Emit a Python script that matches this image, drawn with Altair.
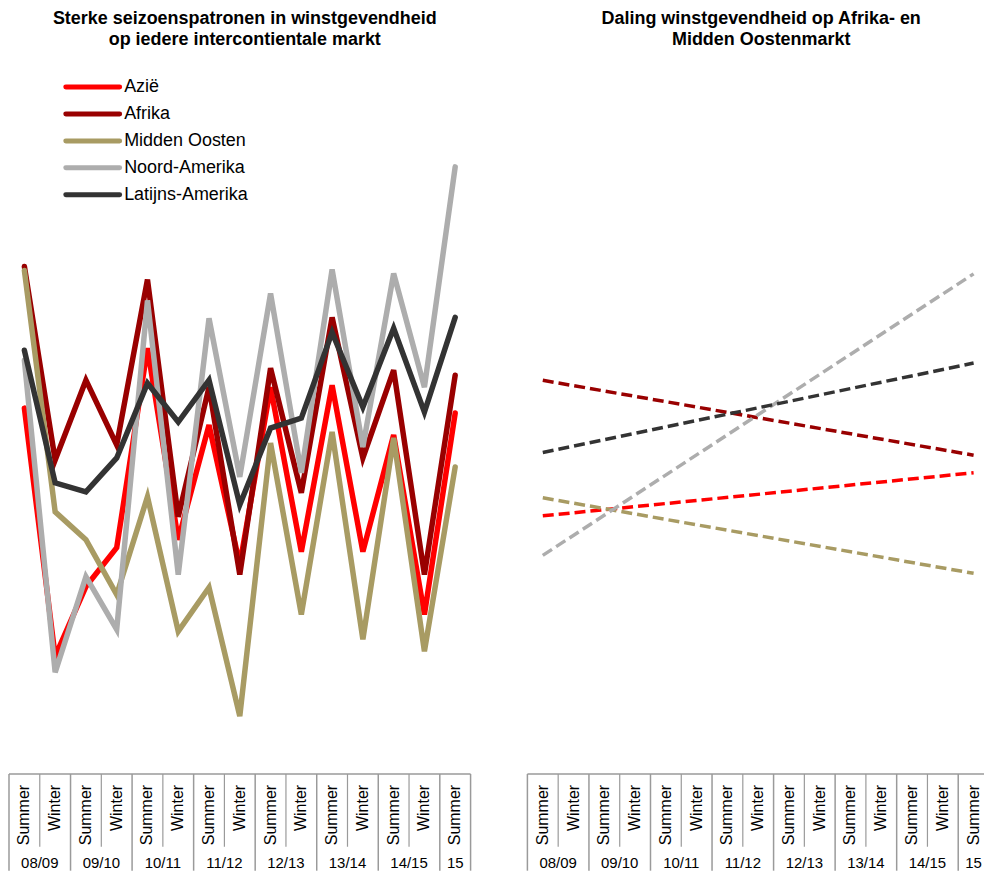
import altair as alt
import pandas as pd

# ---- data (arbitrary index units, no y axis shown) ----
seasons = ["Summer", "Winter"] * 7 + ["Summer"]
years = ["08/09", "08/09", "09/10", "09/10", "10/11", "10/11", "11/12", "11/12",
         "12/13", "12/13", "13/14", "13/14", "14/15", "14/15", "15"]

series_names = ["Azië", "Afrika", "Midden Oosten", "Noord-Amerika", "Latijns-Amerika"]
series_colors = ["#FF0000", "#990000", "#A89B63", "#ADADAD", "#333333"]

azie = [37.2, 12.3, 19.3, 23.2, 43.2, 24.0, 35.5, 21.5, 39.3, 22.8, 39.5, 22.8, 34.5, 16.5, 36.7]
afrika = [51.4, 32.0, 40.0, 33.5, 50.1, 26.3, 39.3, 20.5, 41.2, 28.7, 46.3, 32.2, 41.0, 20.5, 40.5]
midden_oosten = [51.0, 26.8, 24.0, 18.5, 28.3, 14.8, 19.2, 6.3, 33.7, 16.5, 34.8, 14.0, 34.2, 12.8, 31.3]
noord_amerika = [42.0, 10.7, 20.3, 15.0, 48.0, 20.5, 46.2, 30.3, 48.7, 30.7, 51.1, 33.3, 50.7, 39.3, 61.4]
latijns_amerika = [43.0, 29.7, 28.8, 32.2, 39.7, 35.8, 40.0, 27.5, 35.2, 36.2, 44.8, 37.3, 45.2, 36.8, 46.3]

left_title = ["Sterke seizoenspatronen in winstgevendheid", "op iedere intercontientale markt"]
right_title = ["Daling winstgevendheid op Afrika- en", "Midden Oostenmarkt"]

series_values = [azie, afrika, midden_oosten, noord_amerika, latijns_amerika]

# ---- tables ----
rows = []
for name, vals in zip(series_names, series_values):
    for i, v in enumerate(vals):
        rows.append({"series": name, "i": i, "season": seasons[i], "year": years[i], "v": v})
df = pd.DataFrame(rows)

periods = pd.DataFrame({"i": list(range(len(seasons))), "season": seasons, "year": years})

n = len(seasons)
bounds = []
for k in range(n + 1):
    full = k == 0 or k == n or years[k] != years[k - 1]
    bounds.append({"b": k - 0.5, "kind": "full" if full else "short"})
bounds = pd.DataFrame(bounds)
one = pd.DataFrame({"a": [0]})

W_LEFT = 463
W_RIGHT = 458          # right panel is cut off at the page edge, as in the reference
H = 864
CELL = W_LEFT / n
FONT = "Liberation Sans"
ys = alt.Scale(domain=[-9.2, 77.2], nice=False, zero=False)
GRID = "#9A9A9A"


def axis_box(xmax, xs):
    layers = []
    edge = pd.DataFrame({"x0": [-0.5], "x1": [min(xmax, n - 0.5)]})
    layers.append(alt.Chart(edge).mark_rule(color=GRID, strokeWidth=1.5).encode(
        x=alt.X("x0:Q", scale=xs, axis=None), x2="x1:Q", y=alt.value(767)))
    layers.append(alt.Chart(bounds)
                  .transform_filter((alt.datum.kind == "full") & (alt.datum.b <= xmax + 0.01))
                  .mark_rule(color=GRID, strokeWidth=1.5).encode(
        x=alt.X("b:Q", scale=xs, axis=None), y=alt.value(767), y2=alt.value(H)))
    layers.append(alt.Chart(bounds)
                  .transform_filter((alt.datum.kind == "short") & (alt.datum.b <= xmax + 0.01))
                  .mark_rule(color=GRID, strokeWidth=1.2).encode(
        x=alt.X("b:Q", scale=xs, axis=None), y=alt.value(767), y2=alt.value(840)))
    layers.append(alt.Chart(periods).mark_text(
        angle=270, align="right", baseline="middle", fontSize=16, font=FONT, color="#000000"
    ).encode(x=alt.X("i:Q", scale=xs, axis=None), y=alt.value(778), text="season:N"))
    layers.append(alt.Chart(periods).transform_aggregate(
        mid="mean(i)", groupby=["year"]
    ).mark_text(baseline="middle", fontSize=15, font=FONT, color="#000000").encode(
        x=alt.X("mid:Q", scale=xs, axis=None), y=alt.value(856), text="year:N"))
    return layers


def title_layers(lines, cx):
    out = []
    for k, t in enumerate(lines):
        out.append(alt.Chart(one).mark_text(
            fontSize=18, fontWeight="bold", font=FONT, baseline="middle", align="center",
            color="#000000"
        ).encode(x=alt.value(cx), y=alt.value(10 + 21 * k), text=alt.value(t)))
    return out


# ---- left panel: seasonal lines ----
xmax_l = n - 0.5
xs_l = alt.Scale(domain=[-0.5, xmax_l], nice=False, zero=False)
left_layers = title_layers(left_title, 236.5)
for name, color in zip(series_names, series_colors):
    left_layers.append(
        alt.Chart(df).transform_filter(alt.datum.series == name)
        .mark_line(color=color, strokeWidth=5.5, strokeCap="round", strokeJoin="miter")
        .encode(x=alt.X("i:Q", scale=xs_l, axis=None), y=alt.Y("v:Q", scale=ys, axis=None))
    )
for k, (name, color) in enumerate(zip(series_names, series_colors)):
    yk = 78 + 27 * k
    left_layers.append(alt.Chart(one).mark_rule(color=color, strokeWidth=5, strokeCap="round")
                       .encode(x=alt.value(57), x2=alt.value(111), y=alt.value(yk)))
    left_layers.append(alt.Chart(one).mark_text(
        align="left", baseline="middle", fontSize=18, font=FONT, color="#000000"
    ).encode(x=alt.value(115.5), y=alt.value(yk), text=alt.value(name)))
left_layers += axis_box(xmax_l, xs_l)
left = alt.layer(*left_layers).properties(width=W_LEFT, height=H)

# ---- right panel: linear trend lines ----
xmax_r = -0.5 + W_RIGHT / CELL
xs_r = alt.Scale(domain=[-0.5, xmax_r], nice=False, zero=False)
right_layers = title_layers(right_title, 234.5)
for name, color in zip(series_names, series_colors):
    right_layers.append(
        alt.Chart(df).transform_filter(alt.datum.series == name)
        .transform_regression(on="i", regression="v")
        .mark_line(color=color, strokeWidth=3.5, strokeDash=[11, 5])
        .encode(x=alt.X("i:Q", scale=xs_r, axis=None), y=alt.Y("v:Q", scale=ys, axis=None))
    )
right_layers += axis_box(xmax_r, xs_r)
right = alt.layer(*right_layers).properties(width=W_RIGHT, height=H)

chart = alt.hconcat(left, right, spacing=55).properties(padding=0).configure_view(stroke=None)

chart.save("out.html", embed_options={"renderer": "svg", "actions": False})
